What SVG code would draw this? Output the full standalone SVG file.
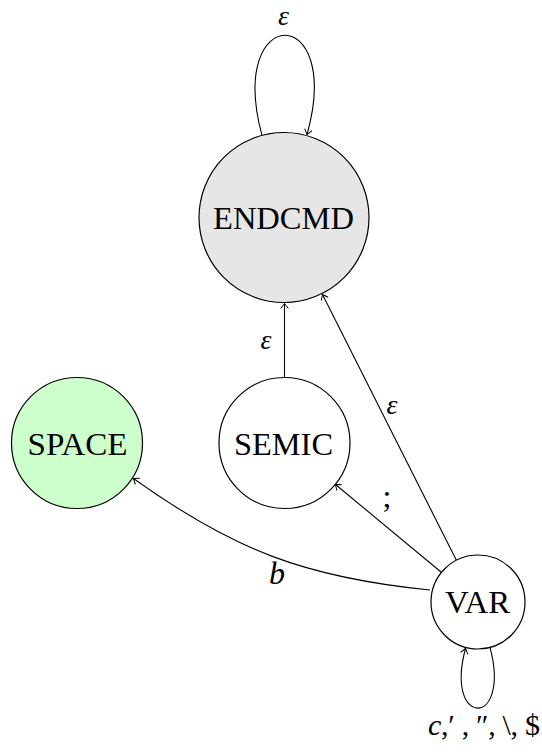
<svg xmlns="http://www.w3.org/2000/svg" width="542" height="756" viewBox="0 0 542 756">
<defs>
<marker id="arr" markerUnits="userSpaceOnUse" markerWidth="12" markerHeight="12" viewBox="-7 -6 8 12" refX="0" refY="0" orient="auto">
<path d="M -5 -3.8 Q -1.2 -1 0 0 Q -1.2 1 -5 3.8" fill="none" stroke="#000" stroke-width="1"/>
</marker>
</defs>
<style>
.node{stroke:#000;stroke-width:1.2}
text{font-family:'Liberation Serif','Times New Roman','DejaVu Serif',serif;fill:#000}
.lbl{font-size:32px;text-anchor:middle}
.el{font-size:28px;font-style:italic;text-anchor:middle}
.edge{fill:none;stroke:#000;stroke-width:1.1;marker-end:url(#arr)}
</style>
<rect width="542" height="756" fill="#fff"/>
<g id="connectors">
<path class="edge" d="M 262 135.4 C 226 2 344 2 307 134.5"/>
<path class="edge" d="M 284.5 377.5 L 284.5 303.5"/>
<path class="edge" d="M 456.5 560.5 L 322.5 294.5"/>
<path class="edge" d="M 441 572 L 335.5 484.5"/>
<path class="edge" d="M 430 590 C 306.3 577.8 233.9 550.4 133.5 478.5"/>
<path class="edge" d="M 490 647.4 C 511.6 728.2 444 728.2 465.5 648.5"/>
</g>
<g id="edge-labels">
<text class="el" font-family="Liberation Serif, serif" x="283.5" y="25">ε</text>
<text class="el" font-family="Liberation Serif, serif" x="266" y="349">ε</text>
<text class="el" font-family="Liberation Serif, serif" x="392" y="414">ε</text>
<text class="lbl" font-family="Liberation Serif, serif" x="387" y="507">;</text>
<text class="lbl" font-family="Liberation Serif, serif" x="277" y="584" font-style="italic">b</text>
<text font-family="Liberation Serif, serif" font-size="30" x="428" y="735" textLength="112" lengthAdjust="spacing"><tspan font-style="italic">c</tspan>,′ , ″, \, $</text>
</g>
<g id="ENDCMD">
<circle class="node" cx="284" cy="217.5" r="85" fill="#e6e6e6"/>
<text class="lbl" font-family="Liberation Serif, serif" x="283.5" y="229" textLength="141" lengthAdjust="spacingAndGlyphs">ENDCMD</text>
</g>
<g id="SPACE">
<circle class="node" cx="77" cy="443" r="65.5" fill="#ccffcc"/>
<text class="lbl" font-family="Liberation Serif, serif" x="77.5" y="455" textLength="100" lengthAdjust="spacingAndGlyphs">SPACE</text>
</g>
<g id="SEMIC">
<circle class="node" cx="284.5" cy="443" r="65.5" fill="#fff"/>
<text class="lbl" font-family="Liberation Serif, serif" x="283.5" y="455" textLength="99" lengthAdjust="spacingAndGlyphs">SEMIC</text>
</g>
<g id="VAR">
<circle class="node" cx="478" cy="602" r="47" fill="#fff"/>
<text class="lbl" font-family="Liberation Serif, serif" x="477.5" y="613" textLength="65" lengthAdjust="spacingAndGlyphs">VAR</text>
</g>
</svg>
